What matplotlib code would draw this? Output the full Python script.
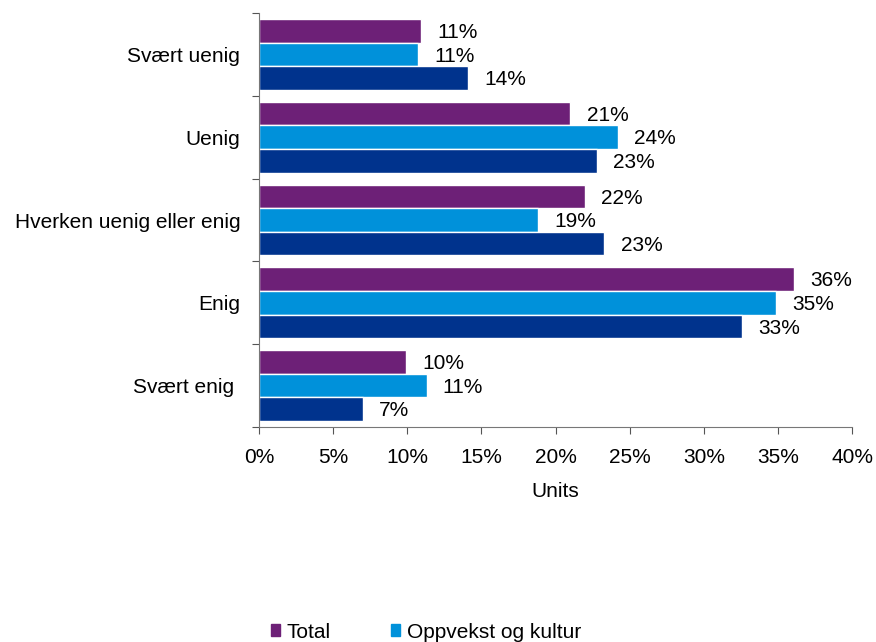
import numpy as np
import matplotlib
matplotlib.use("Agg")
from matplotlib import pyplot as plt
from matplotlib.patches import Patch

plt.rcParams['font.family'] = ['Liberation Sans', 'DejaVu Sans']
fs = 15

# svaralternativer, ovenfra og ned
kategorier = ['Svært uenig', 'Uenig', 'Hverken uenig eller enig', 'Enig', 'Svært enig ']
total = [10.9, 21.0, 22.0, 36.1, 9.9]
oppvekst = [10.7, 24.2, 18.8, 34.9, 11.3]
enhet = [14.1, 22.8, 23.3, 32.6, 7.0]

serier = [('Total', total, '#6D2077'),
          ('Oppvekst og kultur', oppvekst, '#0091DA'),
          (None, enhet, '#00338D')]

fig = plt.figure(figsize=(8.76, 6.42), dpi=100)
ax = fig.add_axes([259 / 876, 1 - 427 / 642, (852 - 259) / 876, (427 - 13) / 642])

y = np.arange(len(kategorier))
h = 0.285
for i, (navn, verdier, farge) in enumerate(serier):
    pos = y + (i - 1) * h
    ax.barh(pos, verdier, height=h, color=farge, edgecolor='white', linewidth=1)
    for p, v in zip(pos, verdier):
        ax.text(v + 1.1, p + 0.02, '%d%%' % round(v), va='center', ha='left', fontsize=fs)

ax.set_ylim(len(kategorier) - 0.5, -0.5)
ax.set_xlim(0, 40)
ax.set_xticks(np.arange(0, 41, 5))
ax.set_xticklabels(['%d%%' % t for t in range(0, 41, 5)], fontsize=fs)
ax.set_yticks(np.arange(-0.5, len(kategorier), 1.0))
ax.set_yticklabels([])
ax.set_yticks(y, minor=True)
ax.set_yticklabels(kategorier, minor=True, fontsize=fs)
ax.tick_params(axis='y', which='minor', length=0, pad=13.5)
ax.tick_params(axis='y', which='major', length=5, color='#555555')
ax.tick_params(axis='x', length=5, color='#555555', pad=10)
ax.set_xlabel('Units', fontsize=fs, labelpad=11)

for s in ['top', 'right']:
    ax.spines[s].set_visible(False)
for s in ['left', 'bottom']:
    ax.spines[s].set_color('#777777')

handles = [Patch(color=f) for n, v, f in serier if n]
labels = [n for n, v, f in serier if n]
fig.legend(handles, labels, loc='center left', bbox_to_anchor=(252 / 876, 1 - 632 / 642),
           ncol=2, frameon=False, fontsize=fs, handlelength=0.45, handleheight=0.45,
           handletextpad=0.3, columnspacing=2.9)

fig.savefig('out.png', dpi=100)
